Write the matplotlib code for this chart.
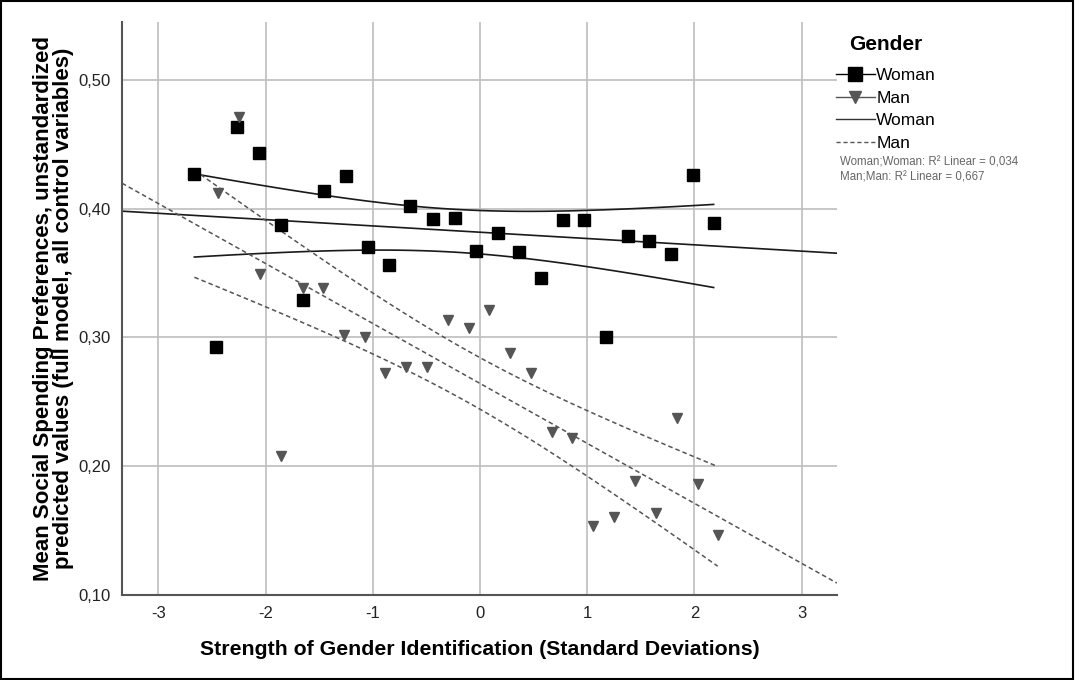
import numpy as np
import matplotlib
matplotlib.use("Agg")
import matplotlib.pyplot as plt
from matplotlib.lines import Line2D
from matplotlib.patches import Rectangle

plt.rcParams['font.family'] = ['Liberation Sans', 'DejaVu Sans']

# data
woman_x = [-2.665, -2.46, -2.265, -2.06, -1.855, -1.65, -1.454, -1.249, -1.044, -0.848,
           -0.652, -0.438, -0.233, -0.037, 0.168, 0.363, 0.569, 0.774, 0.969, 1.174,
           1.379, 1.575, 1.78, 1.985, 2.18]
woman_y = [0.427, 0.292, 0.463, 0.443, 0.387, 0.329, 0.414, 0.425, 0.370, 0.356,
           0.402, 0.392, 0.393, 0.367, 0.381, 0.366, 0.346, 0.391, 0.391, 0.300,
           0.379, 0.375, 0.365, 0.426, 0.389]
man_x = [-2.44, -2.245, -2.05, -1.855, -1.65, -1.463, -1.268, -1.072, -0.885, -0.69,
         -0.494, -0.298, -0.10, 0.084, 0.28, 0.475, 0.671, 0.857, 1.053, 1.249,
         1.445, 1.64, 1.836, 2.03, 2.218]
man_y = [0.412, 0.471, 0.349, 0.208, 0.338, 0.338, 0.302, 0.300, 0.272, 0.277,
         0.277, 0.313, 0.307, 0.321, 0.288, 0.272, 0.226, 0.222, 0.153, 0.160,
         0.188, 0.163, 0.237, 0.186, 0.146]
r2_labels = ["Woman;Woman: R\u00b2 Linear = 0,034", "Man;Man: R\u00b2 Linear = 0,667"]

T_CRIT = 2.069  # t(0.975, df=23)


def fit_band(x, y, xs):
    x = np.asarray(x)
    y = np.asarray(y)
    n = len(x)
    b, a = np.polyfit(x, y, 1)
    resid = y - (a + b * x)
    s = np.sqrt(np.sum(resid ** 2) / (n - 2))
    sxx = np.sum((x - x.mean()) ** 2)
    se = s * np.sqrt(1.0 / n + (xs - x.mean()) ** 2 / sxx)
    yhat = a + b * xs
    return a, b, yhat - T_CRIT * se, yhat + T_CRIT * se


fig = plt.figure(figsize=(10.75, 6.8), dpi=100)
ax = fig.add_axes([0.1135, 0.1257, 0.665, 0.842])

xlim = (-3.34, 3.33)
ax.set_xlim(*xlim)
ax.set_ylim(0.10, 0.545)

ax.grid(True, color='#bdbdbd', lw=1.2)
ax.set_axisbelow(True)

full = np.array(xlim)

# women
xs = np.linspace(min(woman_x), max(woman_x), 100)
a, b, lo, hi = fit_band(woman_x, woman_y, xs)
ax.plot(full, a + b * full, color='#1a1a1a', lw=1.2)
ax.plot(xs, lo, color='#1a1a1a', lw=1.2)
ax.plot(xs, hi, color='#1a1a1a', lw=1.2)

# men
xs = np.linspace(min(man_x) - 0.225, max(man_x), 100)
a, b, lo, hi = fit_band(man_x, man_y, xs)
ax.plot(full, a + b * full, color='#555555', lw=1.1, ls=(0, (3, 2)))
ax.plot(xs, lo, color='#555555', lw=1.1, ls=(0, (3, 2)))
ax.plot(xs, hi, color='#555555', lw=1.1, ls=(0, (3, 2)))

ax.plot(woman_x, woman_y, 's', color='black', ms=9.3, zorder=5)
ax.plot(man_x, man_y, 'v', color='#555555', ms=7, zorder=5)

ax.set_xticks([-3, -2, -1, 0, 1, 2, 3])
ax.set_xticklabels(['-3', '-2', '-1', '0', '1', '2', '3'])
ax.set_yticks([0.1, 0.2, 0.3, 0.4, 0.5])
ax.set_yticklabels(['0,10', '0,20', '0,30', '0,40', '0,50'])
ax.tick_params(length=0, labelsize=12, colors='#222222', pad=8)

for side in ['top', 'right']:
    ax.spines[side].set_visible(False)
for side in ['left', 'bottom']:
    ax.spines[side].set_color('#555555')
    ax.spines[side].set_linewidth(1.5)

ax.set_xlabel('Strength of Gender Identification (Standard Deviations)',
              fontsize=15.3, fontweight='bold', labelpad=14)
ax.set_ylabel('Mean Social Spending Preferences, unstandardized\n'
              'predicted values (full model, all control variables)',
              fontsize=16, fontweight='bold', labelpad=3, linespacing=0.95)

handles = [
    Line2D([0], [0], color='black', marker='s', ms=10, lw=1),
    Line2D([0], [0], color='#555555', marker='v', ms=9, lw=1),
    Line2D([0], [0], color='#333333', lw=1),
    Line2D([0], [0], color='#555555', lw=1, ls=(0, (3, 2))),
]
leg = fig.legend(handles, ['Woman', 'Man', 'Woman', 'Man'], title='Gender',
                 loc='upper left', bbox_to_anchor=(0.778, 0.948), frameon=False,
                 fontsize=12.5, handlelength=2.2, handletextpad=0.1,
                 labelspacing=0.42, borderaxespad=0, borderpad=0)
leg.get_title().set_fontweight('bold')
leg.get_title().set_fontsize(15)
leg._legend_box.sep = 10

fig.text(0.781, 0.757, r2_labels[0], fontsize=8.3, color='#666666')
fig.text(0.781, 0.735, r2_labels[1], fontsize=8.3, color='#666666')

fig.patches.append(Rectangle((0.001, 0.002), 0.997, 0.996, transform=fig.transFigure,
                             fill=False, ec='black', lw=1.5))

fig.savefig('out.png', dpi=100)
